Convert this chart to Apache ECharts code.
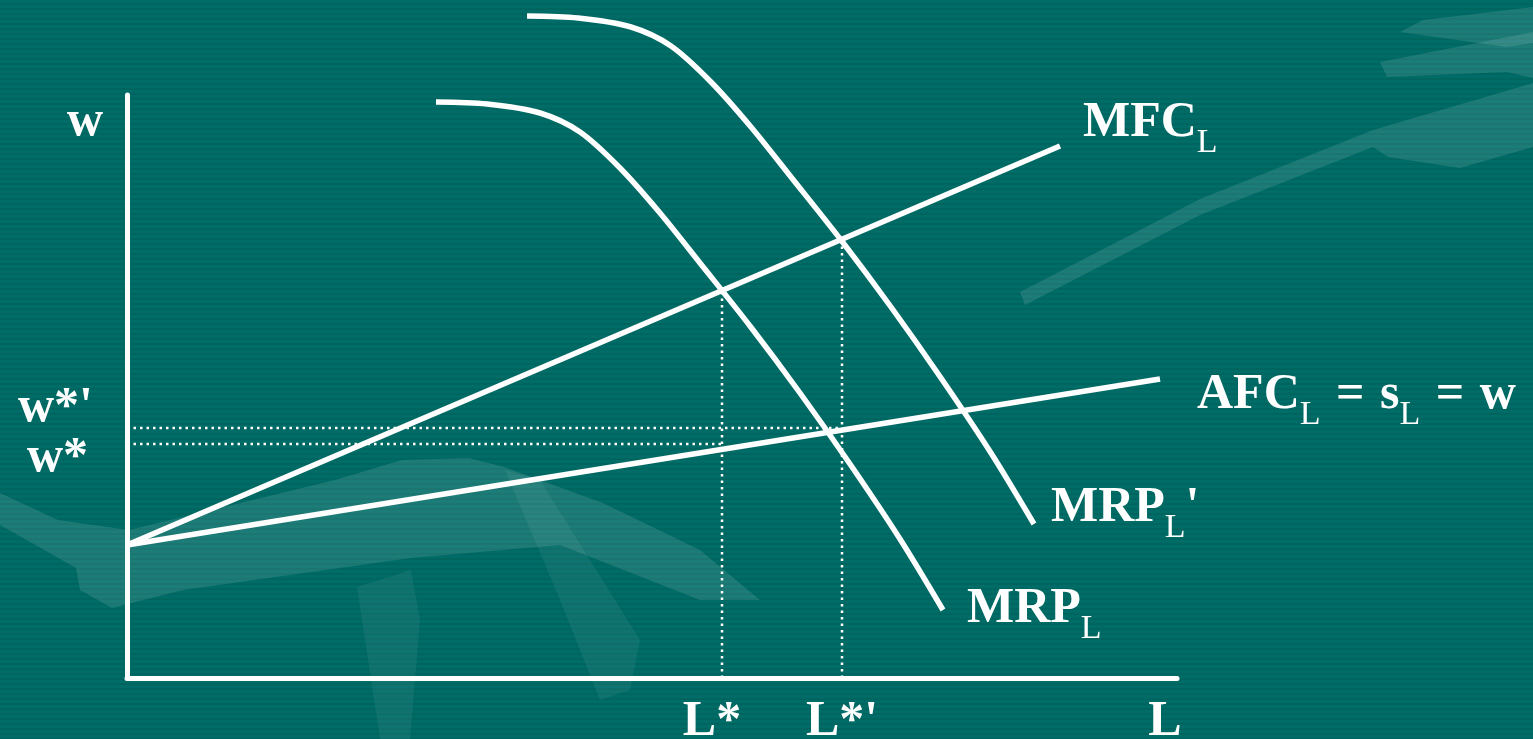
<!DOCTYPE html>
<html>
<head>
<meta charset="utf-8">
<script src="https://cdn.jsdelivr.net/npm/echarts@6/dist/echarts.min.js"></script>
<style>
html, body { margin: 0; padding: 0; }
body { background: repeating-linear-gradient(to bottom, #006c67 0px, #006c67 3px, #00655f 3px, #00655f 5px); }
#chart { width: 1533px; height: 739px; }
</style>
</head>
<body>
<div id="chart"></div>
<script>
// units: L axis 0-105, w axis 0-58.3
var lStar = 59.5, lStarPrime = 71.5;
var wStar = 23.4, wStarPrime = 25.0;

var mfcLine = [[0, 13.3], [93.3, 53.2]];
var afcLine = [[0, 13.3], [103.3, 29.9]];

var mrpCurve = [
    [30.9, 57.6], [36.0, 57.4], [41.3, 56.5], [45.3, 54.6], [49.3, 51.0], [53.3, 46.5],
    [57.3, 41.5], [62.3, 35.2], [67.3, 28.5], [72.3, 21.4], [77.3, 13.9], [81.6, 6.8]
];
var mrpPrimeCurve = [
    [40.0, 66.2], [45.1, 66.0], [50.4, 65.1], [54.4, 63.2], [58.4, 59.6], [62.4, 55.1],
    [66.4, 50.1], [71.4, 43.8], [76.4, 37.1], [81.4, 30.0], [86.4, 22.5], [90.7, 15.4]
];

var xTickValues = [lStar, lStarPrime, 103.8];
var xTickLabels = ['L*', "L*'", 'L'];
var yTickValues = [wStarPrime, 55.6];
var yTickLabels = ["w*'", 'w'];
var yTickValues2 = [wStar];
var yTickLabels2 = ['w*'];

var FONT = '"Liberation Serif", "Times New Roman", serif';

document.addEventListener('DOMContentLoaded', function () {
    var chart = echarts.init(document.getElementById('chart'), null, { renderer: 'canvas' });

    var big = { fontFamily: FONT, fontSize: 50, fontWeight: 'bold', color: '#fff', lineHeight: 56 };
    var rich = {
        m: big,
        e: Object.assign({}, big, { padding: [0, 3, 0, 3] }),
        s: { fontFamily: FONT, fontSize: 34, fontWeight: 'normal', color: '#fff', lineHeight: 56, padding: [41, 0, 0, 0] },
        // 纵轴标签：用 padding 上下挪动
        up: Object.assign({}, big, { lineHeight: 10, padding: [0, 10, 39, 0] }),
        down: Object.assign({}, big, { lineHeight: 10, padding: [29, 15, 0, 0] }),
        top: Object.assign({}, big, { lineHeight: 10 }),
        left: Object.assign({}, big, { padding: [0, 20, 0, 0] })
    };

    function curve(data, smooth, text, distance, offset) {
        return {
            type: 'line',
            data: data,
            smooth: smooth,
            showSymbol: false,
            clip: false,
            silent: true,
            z: 5,
            lineStyle: { color: '#fff', width: 5.5 },
            endLabel: {
                show: true,
                formatter: function () { return text; },
                distance: distance,
                offset: offset,
                rich: rich
            }
        };
    }

    function dotted(data) {
        return {
            type: 'line',
            data: data,
            showSymbol: false,
            silent: true,
            z: 3,
            lineStyle: { color: '#fff', width: 2.5, type: [2.5, 4] }
        };
    }

    function yAxisLabels(values, labels, styles, showLine) {
        return {
            type: 'value',
            min: 0,
            max: 58.3,
            position: 'left',
            axisLine: { show: showLine, onZero: false, lineStyle: { color: '#fff', width: 5 } },
            axisTick: { show: false },
            splitLine: { show: false },
            axisLabel: {
                customValues: values,
                margin: 24,
                formatter: function (v) {
                    var i = values.indexOf(v);
                    return '{' + styles[i] + '|' + labels[i] + '}';
                },
                rich: rich
            }
        };
    }

    var light = 'rgba(255,255,255,0.11)';
    var faint = 'rgba(255,255,255,0.06)';

    var option = {
        animation: false,
        backgroundColor: 'transparent',
        grid: { left: 127, top: 95, right: 356, bottom: 61, outerBoundsMode: 'none', containLabel: false },
        graphic: [
            { type: 'polygon', z: -1, silent: true, style: { fill: light },
              shape: { points: [[1020, 292], [1200, 199], [1373, 130], [1533, 83], [1533, 147], [1460, 168], [1388, 157], [1373, 147], [1200, 215], [1025, 305]] } },
            { type: 'polygon', z: -1, silent: true, style: { fill: light },
              shape: { points: [[1380, 62], [1533, 32], [1533, 78], [1507, 72], [1387, 77]] } },
            { type: 'polygon', z: -1, silent: true, style: { fill: light },
              shape: { points: [[1400, 32], [1423, 20], [1533, 7], [1533, 43], [1507, 47]] } },
            { type: 'polygon', z: -1, silent: true, style: { fill: light },
              shape: { points: [[0, 493], [58, 520], [129, 530], [335, 480], [402, 460], [469, 458], [504, 467], [603, 503], [700, 550], [760, 600], [700, 600], [560, 545], [411, 558], [183, 590], [112, 608], [80, 590], [76, 568], [0, 525]] } },
            { type: 'polygon', z: -1, silent: true, style: { fill: faint },
              shape: { points: [[357, 587], [411, 570], [420, 620], [410, 739], [380, 739]] } },
            { type: 'polygon', z: -1, silent: true, style: { fill: faint },
              shape: { points: [[505, 470], [540, 480], [640, 640], [630, 690], [600, 700], [560, 600]] } }
        ],
        xAxis: {
            type: 'value',
            min: 0,
            max: 105,
            axisLine: { show: true, onZero: false, lineStyle: { color: '#fff', width: 5 } },
            axisTick: { show: false },
            splitLine: { show: false },
            axisLabel: {
                customValues: xTickValues,
                margin: 16,
                formatter: function (v) {
                    var i = xTickValues.indexOf(v);
                    return (i === 0 ? '{left|' : '{m|') + xTickLabels[i] + '}';
                },
                rich: rich
            }
        },
        yAxis: [
            yAxisLabels(yTickValues, yTickLabels, ['up', 'top'], true),
            yAxisLabels(yTickValues2, yTickLabels2, ['down'], false)
        ],
        series: [
            dotted([[lStar, 0], [lStar, 38.8]]),
            dotted([[lStarPrime, 0], [lStarPrime, 44.0]]),
            dotted([[0, wStar], [lStar, wStar]]),
            dotted([[0, wStarPrime], [lStarPrime, wStarPrime]]),
            curve(mfcLine, false, '{m|MFC}{s|L}', 23, [0, -23]),
            curve(afcLine, false, '{m|AFC}{s|L}{e| = }{m|s}{s|L}{e| = }{m|w}', 37, [0, 16]),
            curve(mrpPrimeCurve, 0.3, "{m|MRP}{s|L}{m|'}", 17, [0, -16]),
            curve(mrpCurve, 0.3, '{m|MRP}{s|L}', 24, [0, -1])
        ]
    };

    chart.setOption(option);
});
</script>
</body>
</html>
